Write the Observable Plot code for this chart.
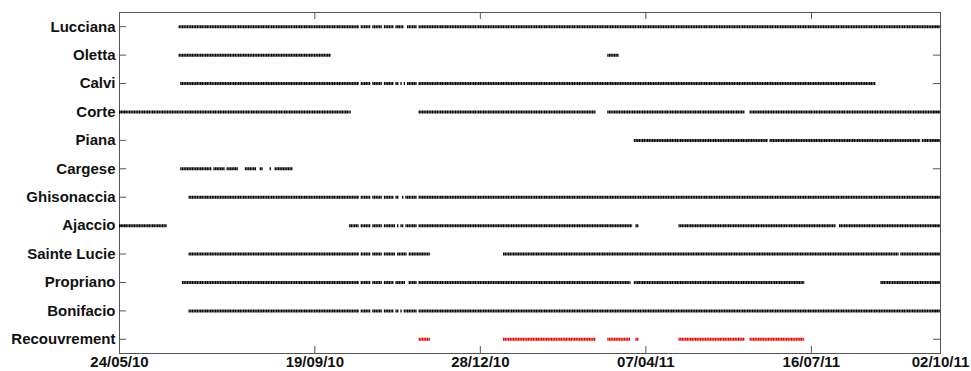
<!DOCTYPE html>
<html>
<head>
<meta charset="utf-8">
<script src="https://cdn.jsdelivr.net/npm/d3@7"></script>
<script src="https://cdn.jsdelivr.net/npm/@observablehq/plot@0.6"></script>
<style>
  html, body { margin: 0; padding: 0; background: #fff; }
</style>
</head>
<body>
<div id="chart"></div>
<script>
const stations = ["Lucciana","Oletta","Calvi","Corte","Piana","Cargese","Ghisonaccia","Ajaccio","Sainte Lucie","Propriano","Bonifacio","Recouvrement"];

const xTickDates = ["2010-05-24","2010-09-19","2010-12-28","2011-04-07","2011-07-16","2011-10-02"];

const lucciana = [["2010-06-29","2010-10-16"],["2010-10-17","2010-10-23"],["2010-10-24","2010-10-30"],["2010-10-31","2010-11-06"],["2010-11-07","2010-11-12"],["2010-11-14","2010-11-20"],["2010-11-21","2011-10-02"]];
const oletta = [["2010-06-29","2010-09-29"],["2011-03-15","2011-03-22"]];
const calvi = [["2010-06-30","2010-10-16"],["2010-10-17","2010-10-23"],["2010-10-24","2010-10-30"],["2010-10-31","2010-11-06"],["2010-11-07","2010-11-09"],["2010-11-10","2010-11-11"],["2010-11-12","2010-11-13"],["2010-11-14","2010-11-20"],["2010-11-21","2011-08-24"]];
const corte = [["2010-05-24","2010-10-11"],["2010-11-21","2011-03-08"],["2011-03-15","2011-06-06"],["2011-06-09","2011-10-02"]];
const piana = [["2011-03-31","2011-06-20"],["2011-06-21","2011-09-20"],["2011-09-21","2011-10-02"]];
const cargese = [["2010-06-30","2010-07-19"],["2010-07-20","2010-07-27"],["2010-07-28","2010-08-04"],["2010-08-08","2010-08-15"],["2010-08-17","2010-08-19"],["2010-08-23","2010-08-24"],["2010-08-26","2010-09-06"]];
const ghisonaccia = [["2010-07-05","2010-10-16"],["2010-10-17","2010-10-23"],["2010-10-24","2010-10-30"],["2010-10-31","2010-11-06"],["2010-11-07","2010-11-09"],["2010-11-11","2010-11-12"],["2010-11-13","2010-11-20"],["2010-11-21","2011-10-02"]];
const ajaccio = [["2010-05-24","2010-06-22"],["2010-10-10","2010-10-16"],["2010-10-17","2010-10-23"],["2010-10-24","2010-10-30"],["2010-10-31","2010-11-07"],["2010-11-08","2010-11-09"],["2010-11-10","2010-11-12"],["2010-11-13","2010-11-20"],["2010-11-21","2011-03-30"],["2011-04-01","2011-04-03"],["2011-04-27","2011-07-31"],["2011-08-02","2011-10-02"]];
const sainteLucie = [["2010-07-05","2010-10-16"],["2010-10-17","2010-10-23"],["2010-10-24","2010-10-30"],["2010-10-31","2010-11-07"],["2010-11-08","2010-11-14"],["2010-11-15","2010-11-28"],["2011-01-11","2011-09-07"],["2011-09-08","2011-10-02"]];
const propriano = [["2010-07-01","2010-10-16"],["2010-10-17","2010-10-23"],["2010-10-24","2010-10-30"],["2010-10-31","2010-11-06"],["2010-11-07","2010-11-13"],["2010-11-15","2010-11-20"],["2010-11-21","2011-03-29"],["2011-03-31","2011-07-12"],["2011-08-27","2011-10-02"]];
const bonifacio = [["2010-07-05","2010-10-16"],["2010-10-17","2010-10-23"],["2010-10-24","2010-10-30"],["2010-10-31","2010-11-06"],["2010-11-07","2010-11-09"],["2010-11-10","2010-11-11"],["2010-11-12","2010-11-20"],["2010-11-21","2011-10-02"]];
const recouvrement = [["2010-11-21","2010-11-28"],["2011-01-11","2011-03-08"],["2011-03-15","2011-03-29"],["2011-04-01","2011-04-03"],["2011-04-27","2011-06-06"],["2011-06-09","2011-07-12"]];

const seriesByStation = [lucciana, oletta, calvi, corte, piana, cargese, ghisonaccia, ajaccio, sainteLucie, propriano, bonifacio, recouvrement];

const parse = d3.utcParse("%Y-%m-%d");
const segments = [];
stations.forEach((s, i) => {
  seriesByStation[i].forEach(([a, b]) => segments.push({station: s, start: parse(a), end: parse(b)}));
});
const xTicks = xTickDates.map(parse);

const W = 971, H = 371;
const mL = 119, mR = 31, mT = 12, mB = 18;
const plotW = W - mL - mR, plotH = H - mT - mB;
const axisColor = "#555";

const chart = Plot.plot({
  width: W,
  height: H,
  marginLeft: mL,
  marginRight: mR,
  marginTop: mT,
  marginBottom: mB,
  style: {
    fontFamily: "'Liberation Sans', Arial, sans-serif",
    fontSize: "15px",
    fontWeight: "bold",
    color: "#111",
    background: "#fff"
  },
  x: {
    type: "utc",
    domain: [xTicks[0], xTicks[xTicks.length - 1]],
    ticks: xTicks,
    tickFormat: d3.utcFormat("%d/%m/%y"),
    tickSize: 0,
    tickPadding: 3,
    label: null
  },
  y: {
    type: "point",
    domain: stations,
    padding: 0.5,
    round: false,
    tickSize: 0,
    tickPadding: 4,
    label: null
  },
  marks: [
    Plot.frame({stroke: axisColor}),
    // inward ticks, bottom and top
    Plot.ruleX(xTicks, {x: d => d, stroke: axisColor, insetTop: plotH - 7}),
    Plot.ruleX(xTicks, {x: d => d, stroke: axisColor, insetBottom: plotH - 7}),
    // inward ticks, left and right
    Plot.ruleY(stations, {y: d => d, stroke: axisColor, insetRight: plotW - 7}),
    Plot.ruleY(stations, {y: d => d, stroke: axisColor, insetLeft: plotW - 7}),
    Plot.ruleY(segments, {
      y: "station",
      x1: "start",
      x2: "end",
      stroke: d => d.station === "Recouvrement" ? "#ee0000" : "#000",
      strokeWidth: 3,
      strokeDasharray: "1.3,0.35"
    })
  ]
});
document.getElementById("chart").appendChild(chart);
</script>
</body>
</html>
